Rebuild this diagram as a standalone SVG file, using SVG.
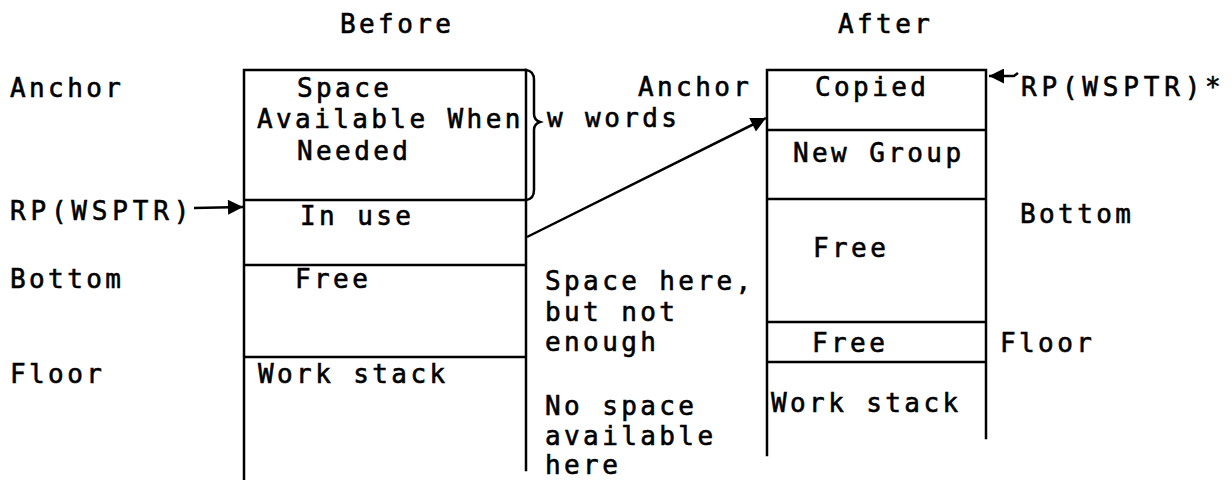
<svg xmlns="http://www.w3.org/2000/svg" width="1232" height="480" viewBox="0 0 1232 480">
<style>
text{font-family:"DejaVu Sans Mono","Liberation Mono",monospace;font-size:26px;letter-spacing:3.4px;fill:#000;stroke:#000;stroke-width:0.6px}
.wide{letter-spacing:4.8px}
.ln{stroke:#000;stroke-width:2.5;fill:none;stroke-linecap:square}
.ar{stroke:#000;stroke-width:2.5;fill:none}
</style>
<defs>
<marker id="ah" viewBox="0 0 10 10" refX="10" refY="5" markerWidth="9" markerHeight="6" markerUnits="strokeWidth" orient="auto">
<path d="M0,0 L10,5 L0,10 Z" fill="#000"/>
</marker>
</defs>
<rect width="1232" height="480" fill="#fff"/>
<g id="headers">
<text x="340" y="33">Before</text>
<text x="838" y="33">After</text>
</g>
<g id="left-labels">
<text x="10" y="97">Anchor</text>
<text class="wide" x="10" y="220">RP(WSPTR)</text>
<text x="10" y="288">Bottom</text>
<text x="10" y="383">Floor</text>
</g>
<g id="before-stack">
<path class="ln" d="M244,70 H526 M244,70 V480 M526,70 V470 M244,200 H526 M244,265 H526 M244,357 H526"/>
<path class="ln" d="M526,70 Q534,71 534,80 V114 Q534,120 540,122 Q534,124 534,130 V190 Q534,199 526,200"/>
<text x="297" y="97">Space</text>
<text x="257" y="128">Available When</text>
<text x="297" y="160">Needed</text>
<text x="300" y="225">In use</text>
<text x="295" y="288">Free</text>
<text x="258" y="383">Work stack</text>
</g>
<g id="middle-labels">
<text x="547" y="127">w words</text>
<text x="545" y="290">Space here,</text>
<text x="545" y="321">but not</text>
<text x="545" y="351">enough</text>
<text x="545" y="415">No space</text>
<text x="545" y="445">available</text>
<text x="545" y="474">here</text>
<text x="638" y="96">Anchor</text>
</g>
<g id="after-stack">
<path class="ln" d="M767,70 H986 M767,70 V455 M986,70 V438 M767,130 H986 M767,199 H986 M767,322 H986 M767,362 H986"/>
<text x="815" y="96">Copied</text>
<text x="793" y="162">New Group</text>
<text x="813" y="257">Free</text>
<text x="812" y="352">Free</text>
<text x="771" y="412">Work stack</text>
</g>
<g id="right-labels">
<text class="wide" x="1021" y="96">RP(WSPTR)*</text>
<text x="1020" y="223">Bottom</text>
<text x="1000" y="352">Floor</text>
</g>
<g id="connectors">
<path class="ar" d="M194,208 L243,207" marker-end="url(#ah)"/>
<path class="ar" d="M527,237 L766,118" marker-end="url(#ah)"/>
<path class="ar" d="M1018,73 L1014,76 L989,76" marker-end="url(#ah)"/>
</g>
</svg>
